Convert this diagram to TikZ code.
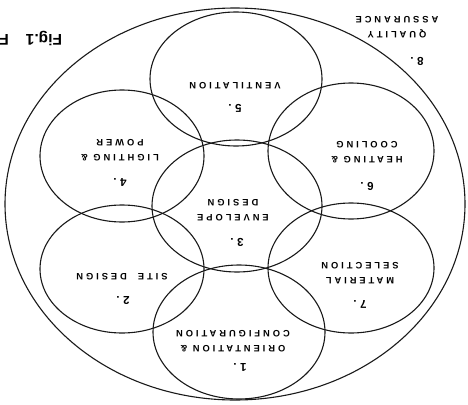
\documentclass[tikz,border=0pt]{standalone}
\usepackage{fontspec}
\newfontfamily\lblfont[LetterSpace=32]{Liberation Sans}
\newfontfamily\figfont{Liberation Sans}
\begin{document}
\begin{tikzpicture}[x=1pt,y=-1pt,
  ring/.style={draw=black!90,line width=1.1pt},
  lbl/.style={font=\lblfont\bfseries\fontsize{9.3}{14.5}\selectfont,rotate=180,align=center,inner sep=0pt},
  num/.style={font=\lblfont\bfseries\fontsize{11.5}{12}\selectfont,rotate=180,inner sep=0pt}]
\clip (0,0) rectangle (468,404);
\useasboundingbox (0,0) rectangle (468,404);
% outer ellipse
\draw[ring] (235,204) ellipse [x radius=230, y radius=196];
% circles
\draw[ring] (236,79) ellipse [x radius=86, y radius=67];
\draw[ring] (122,156) ellipse [x radius=82, y radius=66];
\draw[ring] (351,151) ellipse [x radius=83, y radius=68];
\draw[ring] (237,206) ellipse [x radius=85, y radius=66];
\draw[ring] (122,269) ellipse [x radius=82, y radius=64];
\draw[ring] (351,268) ellipse [x radius=83, y radius=65];
\draw[ring] (239,332) ellipse [x radius=86, y radius=67];
% labels
\node[lbl] (t5) at (235,86) {VENTILATION};
\node[num] (n5) at (235,108) {5.};
\node[lbl] (t4) at (120,150) {LIGHTING \&\\POWER};
\node[num] (n4) at (120,182) {4.};
\node[lbl] (t6) at (367,152) {HEATING \&\\COOLING};
\node[num] (n6) at (367,186) {6.};
\node[lbl] (t3) at (233,210) {ENVELOPE\\DESIGN};
\node[num] (n3) at (237,242) {3.};
\node[lbl] (t2) at (122,277) {SITE\ \ DESIGN};
\node[num] (n2) at (123,301) {2.};
\node[lbl] (t7) at (360,273) {MATERIAL\\SELECTION};
\node[num] (n7) at (360,304) {7.};
\node[lbl] (t1) at (233,341) {ORIENTATION \&\\CONFIGURATION};
\node[num] (n1) at (240,367) {1.};
\node[lbl] (t8) at (397,27) {QUALITY\\ASSURANCE};
\node[num] (n8) at (417,61) {8.};
\node[font=\figfont\bfseries\fontsize{15.5}{16}\selectfont,rotate=180,inner sep=0pt] (fig) at (30.7,38.5) {Fig.1\hspace{17pt}F};
\end{tikzpicture}
\end{document}
